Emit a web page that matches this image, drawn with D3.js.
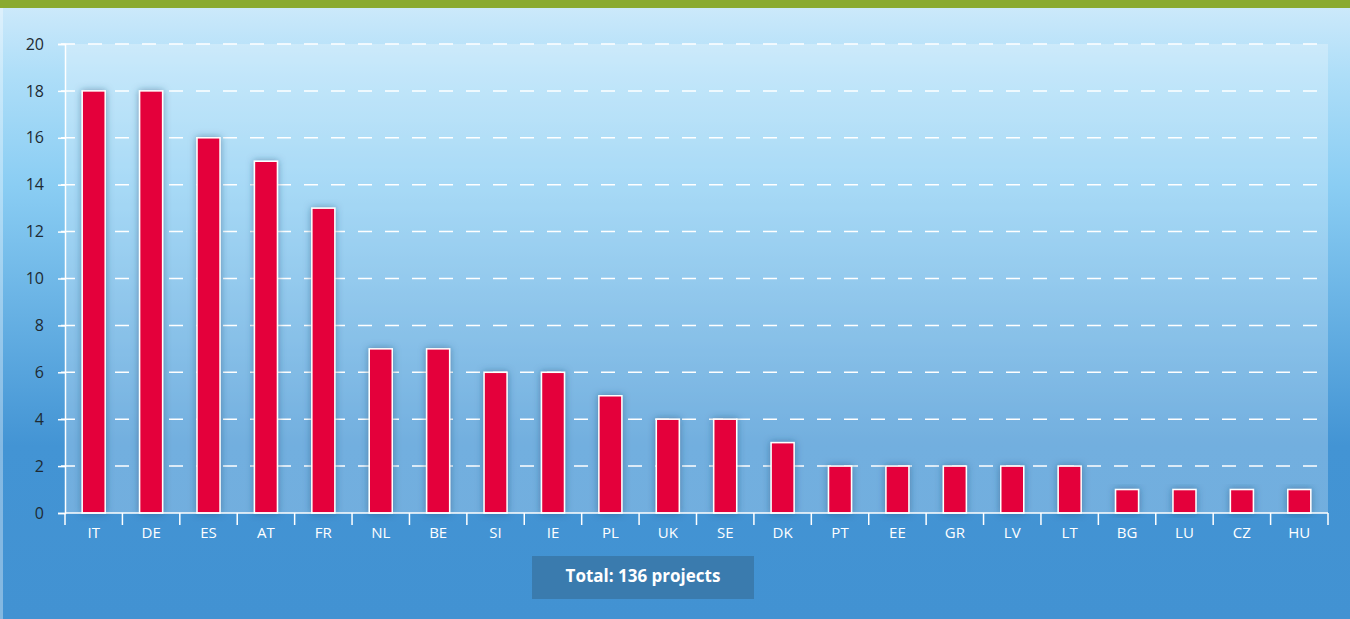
<!DOCTYPE html>
<html>
<head>
<meta charset="utf-8">
<script src="https://cdn.jsdelivr.net/npm/d3@7"></script>
<style>
  body { margin: 0; padding: 0; overflow: hidden; }
  svg { display: block; font-family: "Open Sans", "DejaVu Sans", sans-serif; }
</style>
</head>
<body>
<script>
// country codes and number of projects
var countries = ["IT","DE","ES","AT","FR","NL","BE","SI","IE","PL","UK","SE","DK","PT","EE","GR","LV","LT","BG","LU","CZ","HU"];
var projects = [18,18,16,15,13,7,7,6,6,5,4,4,3,2,2,2,2,2,1,1,1,1];
var yTicks = [0,2,4,6,8,10,12,14,16,18,20];
var totalLabel = "Total: 136 projects";

var W = 1350, H = 619;
var margin = {top: 44, right: 22, bottom: 106, left: 65};
var font = "'Open Sans', 'DejaVu Sans', sans-serif";

var svg = d3.select("body").append("svg")
    .attr("width", W).attr("height", H);

var defs = svg.append("defs");
var bg = defs.append("linearGradient").attr("id","bg")
    .attr("x1",0).attr("y1",0).attr("x2",0).attr("y2",1);
bg.append("stop").attr("offset","0%").attr("stop-color","#cfeafb");
bg.append("stop").attr("offset","12%").attr("stop-color","#aedef8");
bg.append("stop").attr("offset","30%").attr("stop-color","#8acdf3");
bg.append("stop").attr("offset","72%").attr("stop-color","#4394d4");
bg.append("stop").attr("offset","100%").attr("stop-color","#4292d2");

var shadow = defs.append("filter").attr("id","shadow")
    .attr("x","-50%").attr("y","-20%").attr("width","200%").attr("height","140%");
shadow.append("feDropShadow").attr("dx",0).attr("dy",0)
    .attr("stdDeviation",3.5).attr("flood-color","#1d4a70").attr("flood-opacity",0.5);

//background
svg.append("rect").attr("width",W).attr("height",H).attr("fill","url(#bg)");
svg.append("rect").attr("width",3).attr("height",H).attr("fill","#ffffff").attr("opacity",0.35);
svg.append("rect").attr("width",W).attr("height",8).attr("fill","#8aaa30");

var x = d3.scaleBand().domain(countries)
    .range([margin.left, W - margin.right]).padding(0);
var y = d3.scaleLinear().domain([0,20])
    .range([H - margin.bottom, margin.top]);

//plot area overlay
svg.append("rect")
    .attr("x", margin.left).attr("y", margin.top)
    .attr("width", W - margin.right - margin.left)
    .attr("height", y(0) - margin.top)
    .attr("fill","#ffffff").attr("opacity",0.25);

//grid lines
svg.append("g").selectAll("line").data(yTicks.filter(function(d){ return d > 0; }))
  .enter().append("line")
    .attr("x1", margin.left - 7).attr("x2", W - margin.right)
    .attr("y1", function(d){ return y(d); }).attr("y2", function(d){ return y(d); })
    .attr("stroke","#ffffff").attr("stroke-width",1.5)
    .attr("stroke-dasharray","14,13").attr("stroke-dashoffset",-3);

//bars
svg.append("g").selectAll("rect").data(projects)
  .enter().append("rect")
    .attr("x", function(d,i){ return x(countries[i]) + x.bandwidth()/2 - 11.5; })
    .attr("width", 23)
    .attr("y", function(d){ return y(d); })
    .attr("height", function(d){ return y(0) - y(d); })
    .attr("fill","#e4003a").attr("stroke","#ffffff").attr("stroke-width",1.5)
    .attr("filter","url(#shadow)");

//y axis
var yAxis = svg.append("g").attr("transform","translate(" + margin.left + ",0)")
    .call(d3.axisLeft(y).tickValues(yTicks).tickSize(7).tickPadding(14))
    .attr("font-family", font).attr("font-size", 16);
yAxis.select(".domain").attr("stroke","#ffffff").attr("stroke-width",1.5);
yAxis.selectAll(".tick line").attr("stroke","#ffffff").attr("stroke-width",1.5);
yAxis.selectAll("text").attr("fill","#1e2a33");

//x axis, ticks on band edges
var xAxis = svg.append("g").attr("transform","translate(0," + y(0) + ")");
xAxis.append("line").attr("x1", margin.left).attr("x2", W - margin.right)
    .attr("stroke","#ffffff").attr("stroke-width",1.5);
xAxis.selectAll(".edge").data(countries.concat(["end"]))
  .enter().append("line").attr("class","edge")
    .attr("x1", function(d,i){ return margin.left + i * x.bandwidth(); })
    .attr("x2", function(d,i){ return margin.left + i * x.bandwidth(); })
    .attr("y1",0).attr("y2",12)
    .attr("stroke","#ffffff").attr("stroke-width",1.5);
xAxis.selectAll("text").data(countries)
  .enter().append("text")
    .attr("x", function(d){ return x(d) + x.bandwidth()/2; })
    .attr("y", 25)
    .attr("text-anchor","middle").attr("fill","#ffffff")
    .attr("font-family", font).attr("font-size","15px")
    .text(function(d){ return d; });

//total box
var box = svg.append("g").attr("transform","translate(532,556)");
box.append("rect").attr("width",222).attr("height",43).attr("fill","#3a7bae");
box.append("text").attr("x",111).attr("y",26).attr("text-anchor","middle")
    .attr("fill","#ffffff").attr("font-size","17px").attr("font-weight","bold")
    .text(totalLabel);
</script>
</body>
</html>
